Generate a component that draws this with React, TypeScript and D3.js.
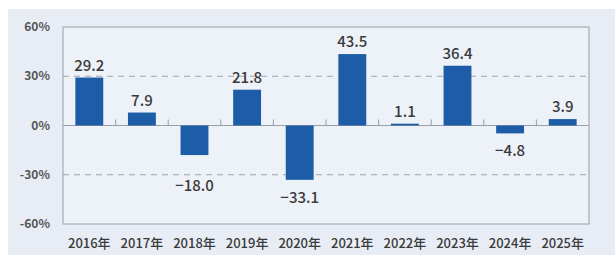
import React, { useEffect, useRef } from "react";
import * as d3 from "d3";

const years = ["2016年", "2017年", "2018年", "2019年", "2020年", "2021年", "2022年", "2023年", "2024年", "2025年"];
const growth = [29.2, 7.9, -18.0, 21.8, -33.1, 43.5, 1.1, 36.4, -4.8, 3.9];
const yTicks = [60, 30, 0, -30, -60];

const W = 615;
const H = 255;

export default function App() {
    const svgRef = useRef<SVGSVGElement>(null);

    useEffect(() => {
        const svg = d3.select(svgRef.current);
        svg.selectAll("*").remove();

        const margin = { top: 27, right: 26, bottom: 31, left: 63 };
        const font = "'Noto Sans CJK JP', 'Liberation Sans', sans-serif";

        // background panel
        svg.append("rect")
            .attr("x", 8).attr("y", 9)
            .attr("width", W - 8).attr("height", H - 9)
            .attr("fill", "#e8edf5");

        const x = d3.scaleBand()
            .domain(years)
            .range([margin.left, W - margin.right])
            .paddingInner(0.47)
            .paddingOuter(0.235);

        const y = d3.scaleLinear()
            .domain([-60, 60])
            .range([H - margin.bottom, margin.top]);

        // plot frame
        svg.append("rect")
            .attr("x", margin.left).attr("y", margin.top)
            .attr("width", W - margin.right - margin.left)
            .attr("height", H - margin.bottom - margin.top)
            .attr("fill", "#edf1f8")
            .attr("stroke", "#9a9ea6")
            .attr("stroke-width", 1);

        // dashed gridlines
        svg.selectAll(".grid")
            .data([30, -30])
            .enter()
            .append("line")
            .attr("x1", margin.left).attr("x2", W - margin.right)
            .attr("y1", (d) => y(d)).attr("y2", (d) => y(d))
            .attr("stroke", "#a0a4ab")
            .attr("stroke-width", 1.2)
            .attr("stroke-dasharray", "6,5");

        // zero line + ticks
        svg.append("line")
            .attr("x1", margin.left).attr("x2", W - margin.right)
            .attr("y1", y(0)).attr("y2", y(0))
            .attr("stroke", "#9a9ea6");

        const step = x.step();
        svg.selectAll(".tick")
            .data(years.slice(1))
            .enter()
            .append("line")
            .attr("x1", (d) => x(d) - step * x.paddingInner() / 2)
            .attr("x2", (d) => x(d) - step * x.paddingInner() / 2)
            .attr("y1", y(0)).attr("y2", y(0) - 6)
            .attr("stroke", "#9a9ea6");

        // y axis labels
        svg.selectAll(".ylab")
            .data(yTicks)
            .enter()
            .append("text")
            .attr("x", 50)
            .attr("y", (d) => y(d))
            .attr("dy", "0.35em")
            .attr("text-anchor", "end")
            .attr("font-family", font)
            .attr("font-size", 12)
            .attr("font-weight", 700)
            .attr("fill", "#555")
            .text((d) => `${d}%`);

        // bars
        svg.selectAll(".bar")
            .data(growth)
            .enter()
            .append("rect")
            .attr("x", (_, i) => x(years[i]))
            .attr("y", (d) => y(Math.max(d, 0)))
            .attr("width", x.bandwidth())
            .attr("height", (d) => Math.abs(y(d) - y(0)))
            .attr("fill", "#1d5ca6");

        // value labels
        svg.selectAll(".val")
            .data(growth)
            .enter()
            .append("text")
            .attr("x", (_, i) => x(years[i]) + x.bandwidth() / 2)
            .attr("y", (d) => {
                if (d >= 0) return y(d) - 7;
                let yy = y(d) + 23;
                // keep clear of the -30% gridline
                if (Math.abs(yy - 5 - y(-30)) < 10) yy = y(-30) + 16;
                return yy;
            })
            .attr("text-anchor", "middle")
            .attr("font-family", font)
            .attr("font-size", 15)
            .attr("font-weight", 500)
            .attr("fill", "#3a3a3a")
            .text((d) => (d < 0 ? `−${Math.abs(d).toFixed(1)}` : d.toFixed(1)));

        // category labels
        svg.selectAll(".xlab")
            .data(years)
            .enter()
            .append("text")
            .attr("x", (d) => x(d) + x.bandwidth() / 2)
            .attr("y", H - margin.bottom + 19)
            .attr("dy", "0.35em")
            .attr("text-anchor", "middle")
            .attr("font-family", font)
            .attr("font-size", 13)
            .attr("font-weight", 500)
            .attr("fill", "#3a3a3a")
            .text((d) => d);
    }, []);

    return (
        <svg
            ref={svgRef}
            width={W}
            height={H}
            style={{ position: "absolute", left: 0, top: 0, background: "#fff" }}
        ></svg>
    );
}
